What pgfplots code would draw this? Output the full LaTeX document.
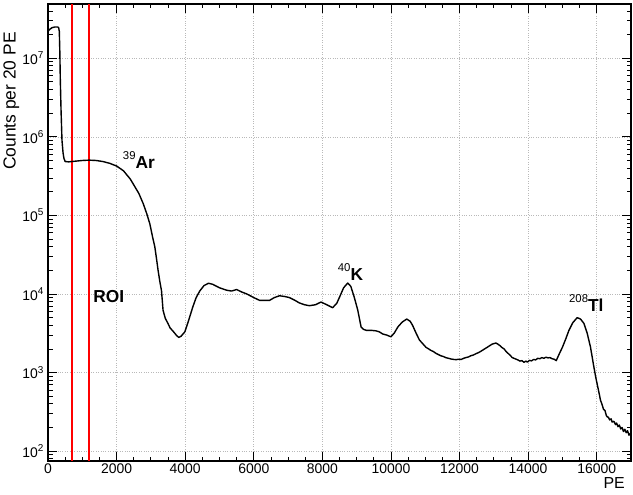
\documentclass[border=0pt]{standalone}
\usepackage{pgfplots}
\pgfplotsset{compat=1.18}
\usepackage{fontspec}
\setmainfont{Liberation Sans}
\newcommand{\tl}[1]{10\raisebox{0.42em}{\fontsize{10}{10}\selectfont #1}}
\newcommand{\iso}[2]{\raisebox{9bp}{\fontsize{11.4}{11}\selectfont #1}\textbf{#2}}
\begin{document}
\begin{tikzpicture}
\begin{axis}[
  at={(0,0)}, anchor=south west, scale only axis,
  width=583bp, height=457bp,
  xmin=0, xmax=17000, ymode=log, ymin=75, ymax=4.9e7,
  xtick={0,2000,4000,6000,8000,10000,12000,14000,16000},
  minor x tick num=3,
  ytick={100,1000,10000,100000,1000000,10000000},
  yticklabels={\tl{2},\tl{3},\tl{4},\tl{5},\tl{6},\tl{7}},
  minor ytick={80,90,200,300,400,500,600,700,800,900,2000,3000,4000,5000,6000,7000,8000,9000,2e4,3e4,4e4,5e4,6e4,7e4,8e4,9e4,2e5,3e5,4e5,5e5,6e5,7e5,8e5,9e5,2e6,3e6,4e6,5e6,6e6,7e6,8e6,9e6,2e7,3e7,4e7},
  tick align=inside, xtick pos=both, ytick pos=both,
  xticklabel pos=bottom, yticklabel pos=left,
  major tick length=9bp, minor tick length=4.5bp,
  grid=major, major grid style={dotted, gray!55, line width=0.6pt},
  axis line style={line width=1.1bp},
  tick style={black, line width=0.8bp},
  ticklabel style={font=\fontsize{14}{16}\selectfont},
  xticklabel style={yshift=1bp},
  yticklabel style={xshift=-1bp},
  /pgf/number format/assume math mode=true,
  /pgf/number format/set thousands separator={},
  scaled x ticks=false,
]
\addplot[red, line width=1.5bp] coordinates {(700,75) (700,4.9e7)};
\addplot[red, line width=1.5bp] coordinates {(1200,75) (1200,4.9e7)};
\addplot[black, line width=1.4bp, line join=round] coordinates {
(0,2.2e7) (60,2.35e7) (120,2.45e7) (200,2.5e7) (280,2.5e7) (310,2.45e7) (330,2.2e7) (345,1.2e7) (358,5.6e6) (380,2.2e6) (408,9e5) (440,6.2e5) (466,5.3e5) (500,4.85e5)
(600,4.8e5) (800,4.9e5) (1000,5.0e5) (1200,5.05e5) (1400,5.0e5) (1600,4.85e5) (1800,4.6e5) (2000,4.25e5) (2200,3.7e5) (2400,2.9e5) (2500,2.45e5) (2650,1.9e5) (2780,1.4e5) (2880,1.05e5) (2970,7.8e4) (3050,5.3e4) (3114,4.0e4) (3160,2.9e4) (3210,2.0e4) (3260,1.45e4) (3310,1.1e4) (3355,6.2e3) (3420,4.9e3) (3500,4.2e3) (3560,3.7e3) (3650,3.35e3) (3740,3.0e3) (3812,2.8e3) (3880,2.9e3) (3990,3.3e3) (4100,4.6e3) (4220,6.8e3) (4320,9.0e3) (4430,1.1e4) (4550,1.28e4) (4680,1.37e4) (4800,1.33e4) (5000,1.2e4) (5200,1.12e4) (5350,1.09e4) (5500,1.14e4) (5650,1.06e4) (5800,1.0e4) (6000,9.0e3) (6170,8.3e3) (6460,8.3e3) (6600,9.0e3) (6750,9.5e3) (6900,9.3e3) (7040,9.0e3) (7200,8.3e3) (7330,7.7e3) (7480,7.3e3) (7620,7.1e3) (7800,7.3e3) (7960,7.9e3) (8100,7.4e3) (8300,6.7e3) (8420,7.6e3) (8500,9.1e3) (8620,1.2e4) (8740,1.38e4) (8830,1.25e4) (8930,9.1e3) (9030,6.3e3) (9130,3.8e3) (9200,3.55e3) (9280,3.45e3) (9420,3.45e3) (9560,3.4e3) (9660,3.3e3) (9760,3.1e3) (9880,3.0e3) (10000,2.85e3) (10100,3.2e3) (10200,3.8e3) (10330,4.4e3) (10460,4.8e3) (10560,4.5e3) (10630,4.0e3) (10730,3.2e3) (10830,2.6e3) (10920,2.35e3) (11020,2.1e3) (11100,2.0e3) (11160,1.92e3) (11240,1.85e3) (11310,1.76e3) (11380,1.70e3) (11450,1.64e3) (11530,1.60e3) (11600,1.55e3) (11680,1.52e3) (11750,1.49e3) (11830,1.47e3) (11900,1.46e3) (11980,1.48e3) (12050,1.47e3) (12120,1.52e3) (12180,1.55e3) (12260,1.58e3) (12330,1.64e3) (12400,1.67e3) (12480,1.74e3) (12560,1.80e3) (12650,1.9e3) (12730,2.0e3) (12810,2.1e3) (12880,2.2e3) (12950,2.3e3) (13060,2.38e3) (13120,2.3e3) (13180,2.2e3) (13240,2.08e3) (13300,2.0e3) (13360,1.85e3) (13420,1.75e3) (13480,1.65e3) (13540,1.55e3) (13620,1.50e3) (13700,1.45e3) (13760,1.40e3) (13820,1.42e3) (13880,1.35e3) (13930,1.40e3) (13980,1.36e3) (14040,1.43e3) (14100,1.41e3) (14160,1.47e3) (14220,1.45e3) (14280,1.52e3) (14340,1.50e3) (14400,1.55e3) (14460,1.52e3) (14520,1.57e3) (14580,1.54e3) (14640,1.55e3) (14700,1.50e3) (14760,1.48e3) (14820,1.42e3) (14900,1.7e3) (15000,2.1e3) (15100,2.7e3) (15190,3.45e3) (15300,4.3e3) (15430,5.0e3) (15530,4.8e3) (15630,4.2e3) (15720,3.2e3) (15820,2.1e3) (15900,1.3e3) (15970,880) (16040,630) (16080,520) (16110,445) (16150,400) (16200,340) (16240,330) (16280,285) (16300,275) (16340,270) (16380,250) (16420,258) (16450,235) (16500,240) (16550,218) (16580,228) (16620,205) (16660,215) (16700,192) (16740,200) (16780,178) (16820,190) (16860,172) (16900,182) (16940,160) (16980,168) (17000,160)
};
\node[anchor=base west, inner sep=0, font=\fontsize{17.4}{18}\selectfont] at (axis cs:2180,3.95e5) {\iso{39}{Ar}};
\node[anchor=base west, inner sep=0, font=\fontsize{17.4}{18}\selectfont] at (axis cs:1318,7.9e3) {\textbf{ROI}};
\node[anchor=base west, inner sep=0, font=\fontsize{17.4}{18}\selectfont] at (axis cs:8448,1.49e4) {\iso{40}{K}};
\node[anchor=base west, inner sep=0, font=\fontsize{17.4}{18}\selectfont] at (axis cs:15190,6.0e3) {\iso{208}{Tl}};
\end{axis}
\node[rotate=90, anchor=base east, inner sep=0, font=\fontsize{17.5}{19}\selectfont] at (-32.5bp,429bp) {Counts per 20 PE};
\node[anchor=base east, inner sep=0, font=\fontsize{16}{18}\selectfont] at (577bp,-27.5bp) {PE};
\pgfresetboundingbox
\path[use as bounding box] (-48bp,-34bp) rectangle (585bp,461bp);
\end{tikzpicture}
\end{document}
